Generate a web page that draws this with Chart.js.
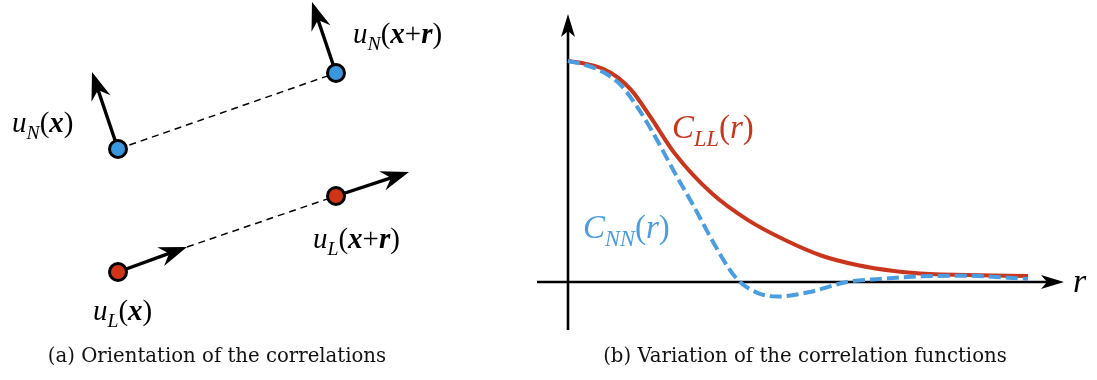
<!DOCTYPE html>
<html>
<head>
<meta charset="utf-8">
<script src="https://cdn.jsdelivr.net/npm/chart.js@4.4.0/dist/chart.umd.min.js"></script>
<style>
  html, body { margin: 0; padding: 0; background: #fff; }
  #wrap { position: relative; width: 1097px; height: 380px; }
  canvas { position: absolute; top: 0; }
</style>
</head>
<body>
<div id="wrap">
  <canvas id="chart_a" width="513" height="380" style="left:0"></canvas>
  <canvas id="chart_b" width="584" height="380" style="left:513px"></canvas>
</div>
<script>
// (a) pontos x e x+r, em unidades arbitrárias
const pontosN = [{x: 0, y: 1.23}, {x: 2.18, y: 1.99}];
const pontosL = [{x: 0, y: 0}, {x: 2.18, y: 0.76}];
// ponta de cada vetor u
const pontasN = [{x: -0.26, y: 2.00}, {x: 1.94, y: 2.70}];
const pontasL = [{x: 0.69, y: 0.25}, {x: 2.91, y: 1.00}];

// (b) funções de correlação
const r_LL = [0, 0.15, 0.35, 0.5, 0.64, 0.82, 1.07, 1.44, 1.80, 2.17, 2.53, 2.89, 3.26, 3.62, 3.98, 4.60];
const C_LL = [1.00, 0.99, 0.965, 0.925, 0.865, 0.75, 0.58, 0.40, 0.28, 0.19, 0.12, 0.077, 0.05, 0.036, 0.032, 0.027];
const r_NN = [0, 0.15, 0.35, 0.53, 0.71, 0.89, 1.07, 1.26, 1.44, 1.62, 1.72, 1.90, 2.09, 2.42, 2.79, 3.12, 3.62, 4.0, 4.60];
const C_NN = [1.00, 0.985, 0.95, 0.89, 0.78, 0.643, 0.492, 0.341, 0.19, 0.054, 0.0, -0.05, -0.066, -0.045, 0.0, 0.014, 0.027, 0.028, 0.014];
// extensão dos eixos
const eixoR = [-0.31, 4.96];
const eixoC = [-0.217, 1.213];

const FONTE = '"Liberation Serif", "DejaVu Serif", serif';
const VERMELHO = '#c9361e';
const AZUL = '#4a9de0';

// texto matemático: partes com estilo i (itálico), bi (negrito itálico), r (normal)
function escreveMath(ctx, partes, x, y, tam, cor) {
  let cx = x;
  ctx.save();
  ctx.fillStyle = cor;
  ctx.textBaseline = 'alphabetic';
  ctx.textAlign = 'left';
  partes.forEach(p => {
    const s = p.sub ? tam * 0.68 : tam;
    const estilo = p.f === 'i' ? 'italic ' : p.f === 'bi' ? 'italic bold ' : '';
    ctx.font = estilo + s + 'px ' + FONTE;
    ctx.fillText(p.t, cx, y + (p.sub ? tam * 0.24 : 0));
    cx += ctx.measureText(p.t).width + (p.dx || 0) * tam;
  });
  ctx.restore();
}

function ponta(ctx, x, y, ang, s) {
  ctx.save();
  ctx.translate(x, y);
  ctx.rotate(ang);
  ctx.beginPath();
  ctx.moveTo(0, 0);
  ctx.lineTo(-s.comp, -s.larg);
  ctx.lineTo(-s.comp + s.recuo, 0);
  ctx.lineTo(-s.comp, s.larg);
  ctx.closePath();
  ctx.fill();
  ctx.restore();
}

// desenha as setas (haste + ponta) dos datasets marcados com "seta"
const pluginSetas = {
  id: 'setas',
  beforeDatasetsDraw(chart) {
    const ctx = chart.ctx;
    chart.data.datasets.forEach((ds, i) => {
      if (!ds.seta) return;
      const pts = chart.getDatasetMeta(i).data;
      const a = pts[0], b = pts[pts.length - 1];
      const ang = Math.atan2(b.y - a.y, b.x - a.x);
      const s = ds.seta;
      const rec = s.comp - s.recuo;
      ctx.save();
      ctx.strokeStyle = '#000';
      ctx.fillStyle = '#000';
      ctx.lineWidth = s.largura;
      ctx.beginPath();
      ctx.moveTo(a.x, a.y);
      ctx.lineTo(b.x - Math.cos(ang) * rec, b.y - Math.sin(ang) * rec);
      ctx.stroke();
      ponta(ctx, b.x, b.y, ang, s);
      ctx.restore();
    });
  }
};

function pluginRotulos(lista) {
  return {
    id: 'rotulos',
    afterDraw(chart) {
      const sx = chart.scales.x, sy = chart.scales.y;
      lista.forEach(l => {
        escreveMath(chart.ctx, l.partes, sx.getPixelForValue(l.x), sy.getPixelForValue(l.y), l.tam, l.cor);
      });
    }
  };
}

function titulo(texto) {
  return {
    display: true,
    position: 'bottom',
    text: texto,
    color: '#111',
    font: { family: '"DejaVu Serif", serif', size: 19.7, weight: 'normal', lineHeight: 24 / 19.7 },
    padding: { top: 0, bottom: 11 }
  };
}

function escalas(xmin, xmax, ymin, ymax) {
  return {
    x: { type: 'linear', display: false, min: xmin, max: xmax, bounds: 'data' },
    y: { type: 'linear', display: false, min: ymin, max: ymax, bounds: 'data' }
  };
}

// ---------- (a) orientação das correlações ----------
const setaA = { comp: 28, larg: 10, recuo: 9, largura: 3.4 };
const pontoEstilo = (cor) => ({
  showLine: false, pointRadius: 8.5, pointBorderWidth: 3,
  pointBackgroundColor: cor, pointBorderColor: '#000', clip: false
});

const rotulosA = [
  { x: -1.06, y: 1.40, tam: 29, cor: '#000', partes: [{t: 'u', f: 'i'}, {t: 'N', f: 'i', sub: true}, {t: '(', f: 'r'}, {t: 'x', f: 'bi'}, {t: ')', f: 'r'}] },
  { x: 2.35, y: 2.29, tam: 29, cor: '#000', partes: [{t: 'u', f: 'i'}, {t: 'N', f: 'i', sub: true}, {t: '(', f: 'r'}, {t: 'x', f: 'bi'}, {t: '+', f: 'r'}, {t: 'r', f: 'bi'}, {t: ')', f: 'r'}] },
  { x: 1.95, y: 0.24, tam: 29, cor: '#000', partes: [{t: 'u', f: 'i'}, {t: 'L', f: 'i', sub: true}, {t: '(', f: 'r'}, {t: 'x', f: 'bi'}, {t: '+', f: 'r'}, {t: 'r', f: 'bi'}, {t: ')', f: 'r'}] },
  { x: -0.25, y: -0.48, tam: 29, cor: '#000', partes: [{t: 'u', f: 'i'}, {t: 'L', f: 'i', sub: true}, {t: '(', f: 'r'}, {t: 'x', f: 'bi'}, {t: ')', f: 'r'}] }
];

new Chart(document.getElementById('chart_a'), {
  type: 'scatter',
  data: {
    datasets: [
      Object.assign({ data: pontosN }, pontoEstilo('#3a97dd')),
      Object.assign({ data: pontosL }, pontoEstilo('#cf3417')),
      { data: [pontosN[0], pontosN[1]], showLine: true, borderColor: '#000', borderWidth: 1.5, borderDash: [7, 5], pointRadius: 0, clip: false },
      { data: [pontasL[0], pontosL[1]], showLine: true, borderColor: '#000', borderWidth: 1.5, borderDash: [7, 5], pointRadius: 0, clip: false },
      { data: [pontosN[0], pontasN[0]], showLine: false, pointRadius: 0, seta: setaA },
      { data: [pontosN[1], pontasN[1]], showLine: false, pointRadius: 0, seta: setaA },
      { data: [pontosL[0], pontasL[0]], showLine: false, pointRadius: 0, seta: setaA },
      { data: [pontosL[1], pontasL[1]], showLine: false, pointRadius: 0, seta: setaA }
    ]
  },
  options: {
    responsive: false,
    animation: false,
    // padding à direita: a legenda (a) fica centrada em 434 px
    layout: { padding: { left: 0, top: 0, bottom: 0, right: 79 }, autoPadding: false },
    scales: escalas(-1.18, 3.16, -0.73, 2.72),
    plugins: {
      legend: { display: false },
      tooltip: { enabled: false },
      title: titulo('(a) Orientation of the correlations')
    }
  },
  plugins: [pluginSetas, pluginRotulos(rotulosA)]
});

// ---------- (b) variação das funções de correlação ----------
const setaEixo = { comp: 23, larg: 7, recuo: 6, largura: 2.6 };

const rotulosB = [
  { x: 1.04, y: 0.652, tam: 33, cor: VERMELHO, partes: [{t: 'C', f: 'i'}, {t: 'LL', f: 'i', sub: true}, {t: '(', f: 'r'}, {t: 'r', f: 'i'}, {t: ')', f: 'r'}] },
  { x: 0.15, y: 0.199, tam: 33, cor: AZUL, partes: [{t: 'C', f: 'i'}, {t: 'NN', f: 'i', sub: true}, {t: '(', f: 'r'}, {t: 'r', f: 'i'}, {t: ')', f: 'r'}] },
  { x: 5.05, y: -0.045, tam: 34, cor: '#000', partes: [{t: 'r', f: 'i'}] }
];

new Chart(document.getElementById('chart_b'), {
  type: 'scatter',
  data: {
    datasets: [
      {
        label: 'C_NN(r)',
        data: r_NN.map((r, i) => ({x: r, y: C_NN[i]})),
        showLine: true, borderColor: AZUL, borderWidth: 4, borderDash: [12, 5],
        cubicInterpolationMode: 'monotone', pointRadius: 0, clip: false
      },
      {
        label: 'C_LL(r)',
        data: r_LL.map((r, i) => ({x: r, y: C_LL[i]})),
        showLine: true, borderColor: VERMELHO, borderWidth: 4,
        cubicInterpolationMode: 'monotone', pointRadius: 0, clip: false
      },
      { data: [{x: eixoR[0], y: 0}, {x: eixoR[1], y: 0}], showLine: false, pointRadius: 0, seta: setaEixo },
      { data: [{x: 0, y: eixoC[0]}, {x: 0, y: eixoC[1]}], showLine: false, pointRadius: 0, seta: setaEixo }
    ]
  },
  options: {
    responsive: false,
    animation: false,
    layout: { padding: 0, autoPadding: false },
    scales: escalas(-0.55, 5.29, -0.285, 1.276),
    plugins: {
      legend: { display: false },
      tooltip: { enabled: false },
      title: titulo('(b) Variation of the correlation functions')
    }
  },
  plugins: [pluginSetas, pluginRotulos(rotulosB)]
});
</script>
</body>
</html>
